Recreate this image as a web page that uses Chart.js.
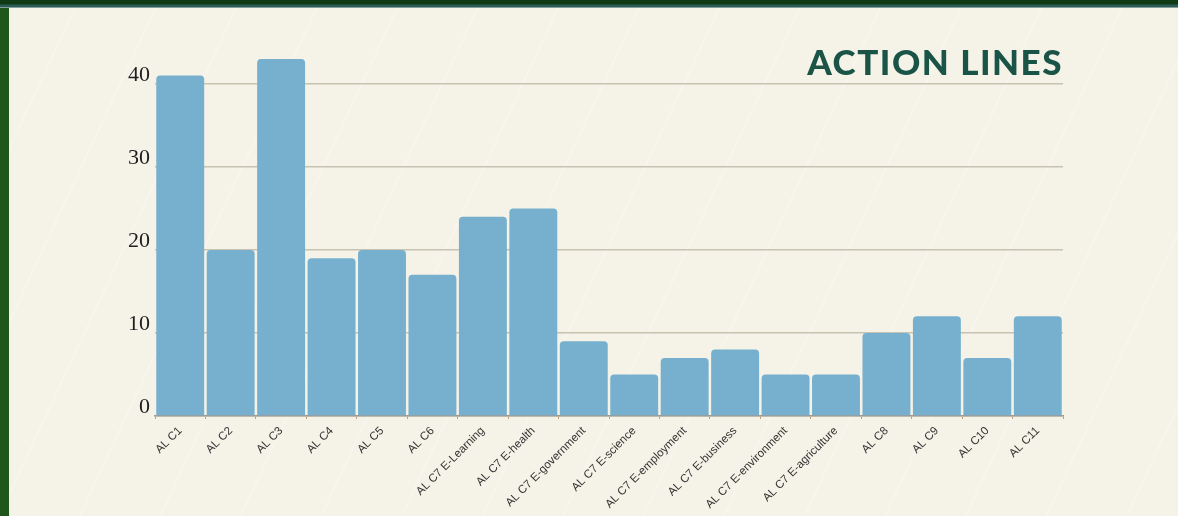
<!DOCTYPE html>
<html>
<head>
<meta charset="utf-8">
<script src="https://cdn.jsdelivr.net/npm/chart.js@4.4.0/dist/chart.umd.min.js"></script>
<style>
  html, body { margin: 0; padding: 0; }
  body {
    width: 1178px; height: 516px; overflow: hidden; position: relative;
    background-color: #f5f2e7;
    background-image: repeating-linear-gradient(115deg, rgba(255,255,255,0) 0px, rgba(255,255,255,0) 70px, rgba(255,255,255,0.3) 71px, rgba(255,255,255,0) 73px);
  }
  #wrap { position: absolute; left: 0; top: 0; width: 1178px; height: 516px; }
  .edge-left { position: absolute; left: 0; top: 0; width: 9px; height: 516px; background: #1f561c; }
  .edge-top { position: absolute; left: 0; top: 0; width: 1178px; height: 8px;
    background: linear-gradient(#0f3a14 0px, #0f3a14 4px, #2c5c58 5px, #2c5c58 7px, #d9e0d6 8px); }
  h1 {
    position: absolute; right: 115px; top: 40px; margin: 0;
    font-family: Lato, "Open Sans", sans-serif; font-weight: 900; font-size: 35px;
    letter-spacing: 1.5px; color: #1a5447;
  }
</style>
</head>
<body>
<div id="wrap"><canvas id="bar-chart"></canvas></div>
<div class="edge-left"></div>
<div class="edge-top"></div>
<h1>ACTION LINES</h1>
<script>
// data
const categories = ["AL C1", "AL C2", "AL C3", "AL C4", "AL C5", "AL C6",
    "AL C7 E-Learning", "AL C7 E-health", "AL C7 E-government", "AL C7 E-science",
    "AL C7 E-employment", "AL C7 E-business", "AL C7 E-environment", "AL C7 E-agriculture",
    "AL C8", "AL C9", "AL C10", "AL C11"];
const values = [41, 20, 43, 19, 20, 17, 24, 25, 9, 5, 7, 8, 5, 5, 10, 12, 7, 12];
const yTicks = [0, 10, 20, 30, 40];

new Chart(document.getElementById("bar-chart"), {
    type: 'bar',
    data: {
        labels: categories,
        datasets: [
            {
                label: "Action lines",
                backgroundColor: "#77b0ce",
                borderRadius: 4,
                borderSkipped: 'bottom',
                barPercentage: 0.95,
                categoryPercentage: 1.0,
                data: values
            }
        ]
    },
    options: {
        responsive: true,
        maintainAspectRatio: false,
        animation: false,
        layout: { padding: { left: 0, right: 115, top: 59, bottom: 0 } },
        plugins: {
            legend: { display: false },
            title: { display: false },
            tooltip: { enabled: false }
        },
        scales: {
            x: {
                grid: { drawOnChartArea: false, drawTicks: true, tickLength: 3, color: '#c79d74' },
                border: { display: true, color: '#9c9c96', width: 1.5 },
                ticks: {
                    color: '#333',
                    font: { family: 'Liberation Sans, Arial, sans-serif', size: 11.5 },
                    minRotation: 45, maxRotation: 45,
                    autoSkip: false,
                    padding: 5
                },
                afterFit: (scale) => { scale.height = 100; }
            },
            y: {
                min: 0,
                max: 43,
                afterBuildTicks: (scale) => {
                    scale.ticks = yTicks.map(v => ({ value: v }));
                },
                grid: { color: '#c7c3b3', lineWidth: 1.5, drawTicks: false },
                border: { display: false },
                ticks: {
                    color: '#1e1e1e',
                    font: { family: 'Liberation Serif, "Times New Roman", serif', size: 22 },
                    padding: 5,
                    labelOffset: -9
                },
                afterFit: (scale) => { scale.width = 155; }
            }
        }
    }
});
</script>
</body>
</html>
